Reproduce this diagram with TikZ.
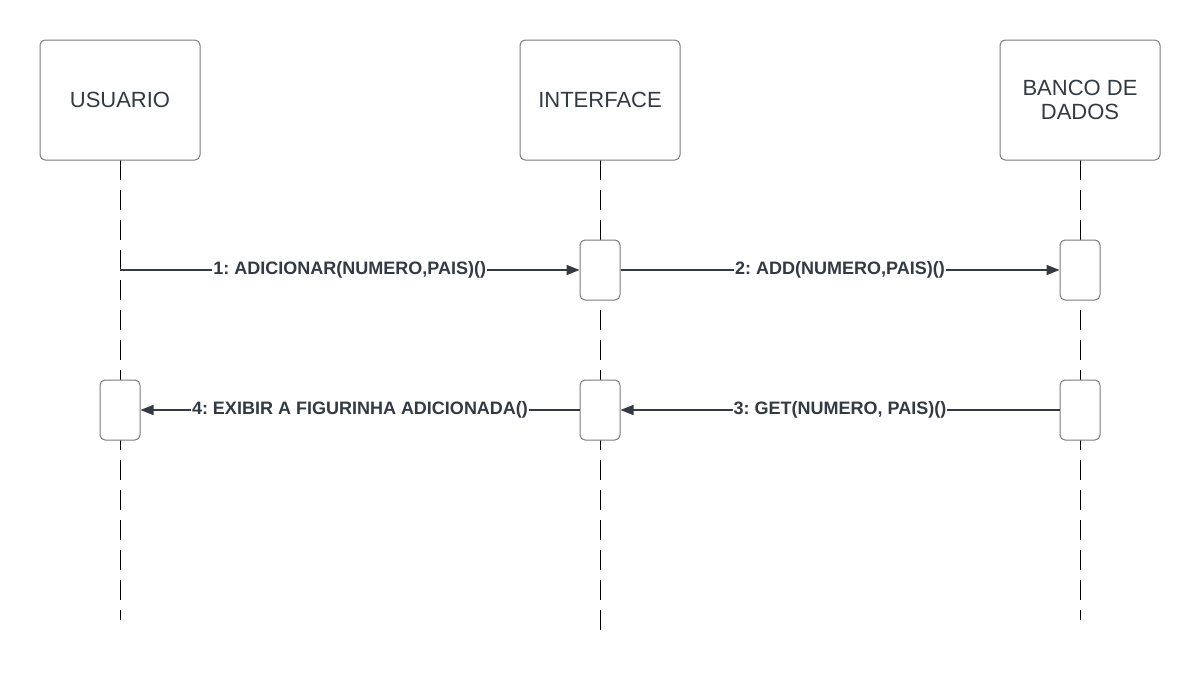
\documentclass[tikz,border=0pt]{standalone}
\usepackage{fontspec}
\setmainfont{Liberation Sans}
\usetikzlibrary{arrows.meta}
\definecolor{ink}{HTML}{333A44}
\definecolor{edge}{HTML}{7A7A7A}
\frenchspacing
\begin{document}
\begin{tikzpicture}[x=1pt,y=-1pt,
  actor/.style={draw=edge,line width=1pt,rounded corners=5pt,fill=white,minimum width=160pt,minimum height=120pt,inner sep=0pt,font=\fontsize{22}{24}\selectfont,text=ink,align=center},
  act/.style={draw=edge,line width=1pt,rounded corners=5pt,fill=white,minimum width=40pt,minimum height=60pt,inner sep=0pt},
  life/.style={draw=black,line width=0.8pt,dash pattern=on 20pt off 10pt},
  msg/.style={draw=ink,line width=1.5pt,-{Triangle[length=13pt,width=10pt]}},
  lbl/.style={fill=white,inner sep=1pt,text=ink,font=\fontsize{18}{20}\bfseries\selectfont}]
\useasboundingbox (0,0) rectangle (1200,680);
% lifelines
\coordinate (u0) at (120,160); \coordinate (u1) at (120,620);
\coordinate (i0) at (600,160); \coordinate (i1) at (600,640);
\coordinate (b0) at (1080,160); \coordinate (b1) at (1080,620);
\draw[life] (u0) -- (u1);
\draw[life] (i0) -- (i1);
\draw[life] (b0) -- (b1);
% actors
\node[actor] (usr) at (120,100) {USUARIO};
\node[actor] (itf) at (600,100) {INTERFACE};
\node[actor] (bd) at (1080,100) {BANCO DE\\DADOS};
% activations
\node[act] (a1) at (600,270) {};
\node[act] (a2) at (1080,270) {};
\node[act] (a3) at (120,410) {};
\node[act] (a4) at (600,410) {};
\node[act] (a5) at (1080,410) {};
\coordinate (s1) at (120,270);
% messages
\draw[msg] (s1) -- node[lbl] {1: ADICIONAR(NUMERO,PAIS)()} (a1.west);
\draw[msg] (a1.east) -- node[lbl] {2: ADD(NUMERO,PAIS)()} (a2.west);
\draw[msg] (a5.west) -- node[lbl] {3: GET(NUMERO, PAIS)()} (a4.east);
\draw[msg] (a4.west) -- node[lbl] {4: EXIBIR A FIGURINHA ADICIONADA()} (a3.east);
\end{tikzpicture}
\end{document}
